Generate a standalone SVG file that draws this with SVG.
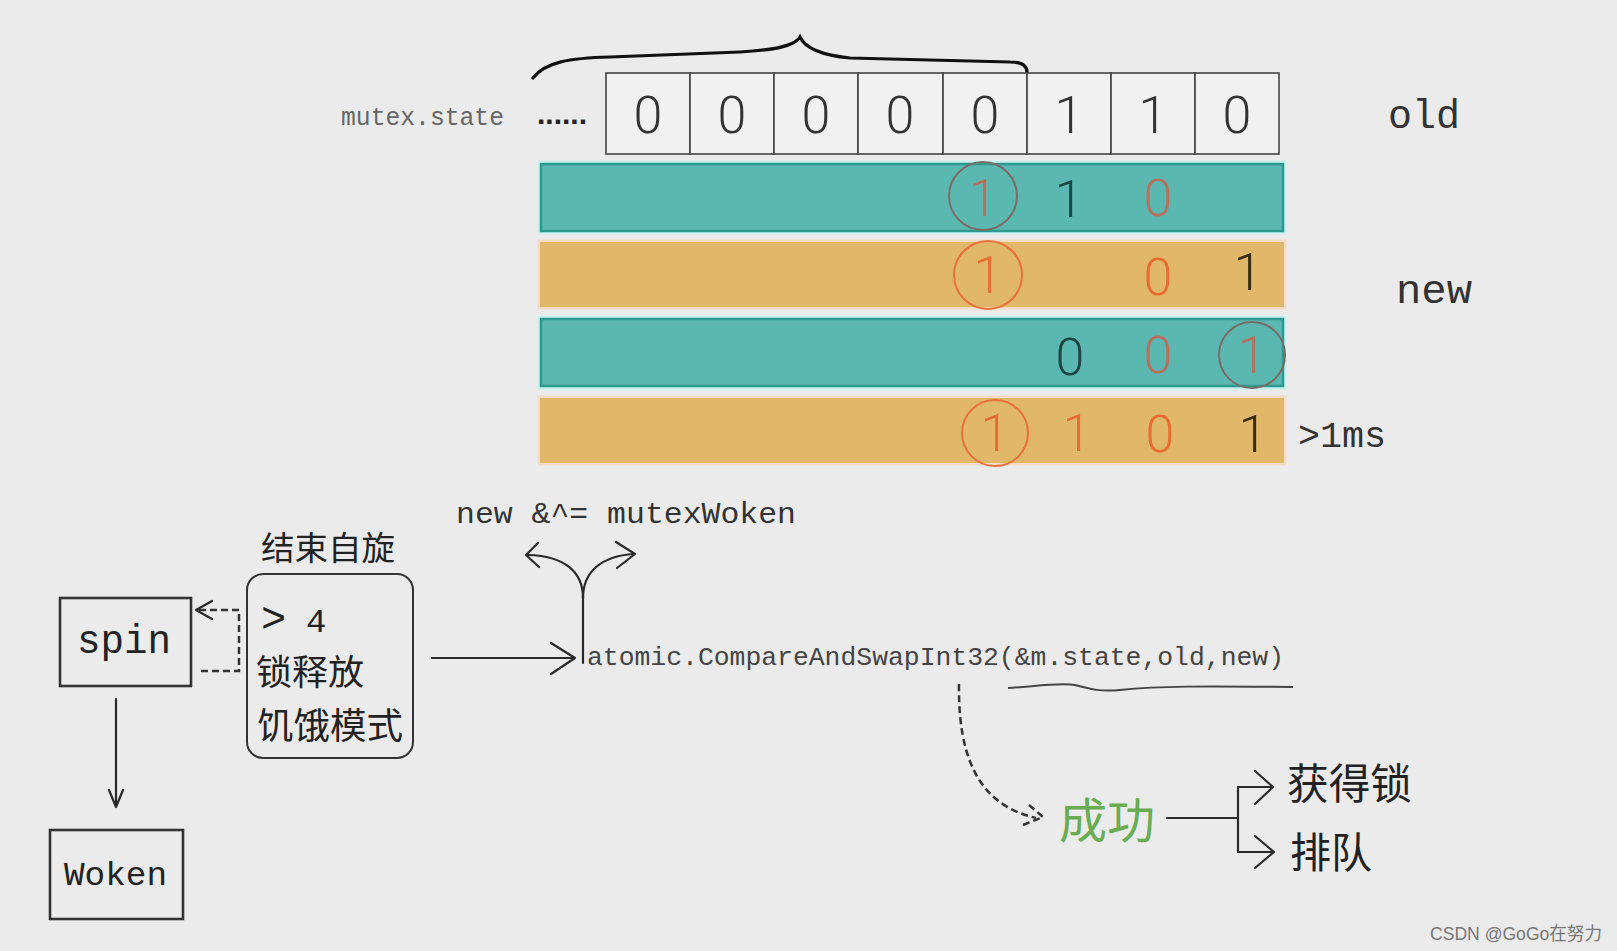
<svg xmlns="http://www.w3.org/2000/svg" width="1617" height="951" viewBox="0 0 1617 951">
<style>
.mono{font-family:"Liberation Mono","DejaVu Sans Mono",monospace}
.dig{font-family:Roboto,Lato,"Liberation Sans",Arial,sans-serif;font-weight:300;font-size:52px;text-anchor:middle}
.cjk{font-family:"Noto Sans CJK SC","Noto Sans",sans-serif}
.cell{fill:#f1f1f1;stroke:#444;stroke-width:1.6}
.teal{fill:#5ab8b0;stroke:#2c9a8e;stroke-width:2.5}
.tealhalo{fill:none;stroke:#c9f1ef;stroke-width:3}
.orange{fill:#e1b869}
.orhalo{fill:none;stroke:#f6dcc4;stroke-width:3}
.ln{fill:none;stroke:#2a2a2a;stroke-width:2.2;stroke-linecap:round;stroke-linejoin:round}
.dash{fill:none;stroke:#333;stroke-width:2.5;stroke-dasharray:7 4}
.box{fill:none;stroke:#333;stroke-width:2.6}
.cT{fill:none;stroke:#7a6c68;stroke-width:2}
.cO{fill:none;stroke:#e8703c;stroke-width:2}
.dT{fill:#1d4747}
.rT{fill:#b8705e}
.rO{fill:#e86c34}
.dO{fill:#3a2c12}
</style>
<rect x="0" y="0" width="1617" height="951" fill="#ebebeb"/>

<g id="brace">
<path d="M533,78 C545,62 570,58 610,57 L740,52 C775,50 795,46 800,37 C805,48 820,55 850,58 L1010,62 C1022,62 1027,66 1027,72" fill="none" stroke="#111" stroke-width="3.2" stroke-linecap="round"/>
</g>

<g id="mutex-state">
<text x="341" y="125" class="mono" font-size="26" fill="#666" textLength="163" lengthAdjust="spacingAndGlyphs">mutex.state</text>
<text x="537" y="124" font-family="Liberation Sans,Arial,sans-serif" font-weight="bold" font-size="30" fill="#222" textLength="50" lengthAdjust="spacing">......</text>
</g>

<g id="old-cells">
<rect class="cell" x="606" y="73" width="84" height="81"/>
<rect class="cell" x="690" y="73" width="84" height="81"/>
<rect class="cell" x="774" y="73" width="84" height="81"/>
<rect class="cell" x="858" y="73" width="85" height="81"/>
<rect class="cell" x="943" y="73" width="84" height="81"/>
<rect class="cell" x="1027" y="73" width="84" height="81"/>
<rect class="cell" x="1111" y="73" width="84" height="81"/>
<rect class="cell" x="1195" y="73" width="84" height="81"/>
<g fill="#333">
<text class="dig" x="648" y="133">0</text>
<text class="dig" x="732" y="133">0</text>
<text class="dig" x="816" y="133">0</text>
<text class="dig" x="900" y="133">0</text>
<text class="dig" x="985" y="133">0</text>
<text class="dig" x="1069" y="133">1</text>
<text class="dig" x="1153" y="133">1</text>
<text class="dig" x="1237" y="133">0</text>
</g>
</g>

<g id="row1">
<rect class="tealhalo" x="539" y="162" width="746" height="71"/>
<rect class="teal" x="541" y="164" width="742" height="67"/>
<circle class="cT" cx="983" cy="196" r="34"/>
<text class="dig rT" x="983" y="216">1</text>
<text class="dig dT" x="1069" y="217">1</text>
<text class="dig rT" x="1158" y="216">0</text>
</g>

<g id="row2">
<rect class="orhalo" x="539" y="241" width="746" height="67"/>
<rect class="orange" x="540" y="242" width="744" height="65"/>
<circle class="cO" cx="988" cy="275" r="34"/>
<text class="dig rO" x="988" y="293">1</text>
<text class="dig rO" x="1158" y="295">0</text>
<text class="dig dO" x="1248" y="290">1</text>
</g>

<g id="row3">
<rect class="tealhalo" x="539" y="317" width="746" height="71"/>
<rect class="teal" x="541" y="319" width="742" height="67"/>
<text class="dig dT" x="1070" y="375">0</text>
<text class="dig rT" x="1158" y="373">0</text>
<circle class="cT" cx="1252" cy="355" r="33"/>
<text class="dig rT" x="1252" y="373">1</text>
</g>

<g id="row4">
<rect class="orhalo" x="539" y="397" width="746" height="67"/>
<rect class="orange" x="540" y="398" width="744" height="65"/>
<circle class="cO" cx="995" cy="433" r="33"/>
<text class="dig rO" x="995" y="451">1</text>
<text class="dig rO" x="1077" y="451">1</text>
<text class="dig rO" x="1160" y="452">0</text>
<text class="dig dO" x="1253" y="452">1</text>
</g>

<g id="labels-right">
<text x="1388" y="128" class="mono" font-size="40" fill="#333" textLength="72" lengthAdjust="spacingAndGlyphs">old</text>
<text x="1396" y="303" class="mono" font-size="40" fill="#333" textLength="76" lengthAdjust="spacingAndGlyphs">new</text>
<text x="1298" y="447" class="mono" font-size="36" fill="#333" textLength="88" lengthAdjust="spacingAndGlyphs">&gt;1ms</text>
</g>

<g id="spin">
<rect class="box" x="60" y="598" width="131" height="88"/>
<text x="77" y="653" class="mono" font-size="40" fill="#222" textLength="94" lengthAdjust="spacingAndGlyphs">spin</text>
</g>

<g id="woken">
<rect class="box" x="50" y="830" width="133" height="89"/>
<text x="64" y="885" class="mono" font-size="34" fill="#222" textLength="103" lengthAdjust="spacingAndGlyphs">Woken</text>
</g>

<g id="end-spin">
<text x="261" y="560" class="cjk" font-size="33" fill="#222" textLength="134" lengthAdjust="spacingAndGlyphs">结束自旋</text>
<rect x="247" y="574" width="166" height="184" rx="16" fill="none" stroke="#333" stroke-width="2"/>
<text x="261" y="632" class="mono" font-size="42" fill="#222">&gt;</text>
<text x="306" y="632" class="mono" font-size="34" fill="#222">4</text>
<text x="256" y="685" class="cjk" font-size="35" fill="#222" textLength="108" lengthAdjust="spacingAndGlyphs">锁释放</text>
<text x="257" y="739" class="cjk" font-size="36" fill="#222" textLength="146" lengthAdjust="spacingAndGlyphs">饥饿模式</text>
</g>

<g id="woken-op">
<text x="456" y="523" class="mono" font-size="30" fill="#333" textLength="340" lengthAdjust="spacingAndGlyphs">new &amp;^= mutexWoken</text>
</g>

<g id="cas">
<text x="587" y="665" class="mono" font-size="26" fill="#444" textLength="697" lengthAdjust="spacingAndGlyphs">atomic.CompareAndSwapInt32(&amp;m.state,old,new)</text>
<path d="M1008,688 C1030,687 1060,682 1075,685 C1090,689 1100,692 1120,690 C1160,686 1200,686 1293,687" fill="none" stroke="#444" stroke-width="2"/>
</g>

<g id="success">
<text x="1059" y="838" class="cjk" font-size="48" fill="#6aac52" textLength="96" lengthAdjust="spacingAndGlyphs">成功</text>
</g>
<g id="get-lock">
<text x="1287" y="799" class="cjk" font-size="42" fill="#222" textLength="125" lengthAdjust="spacingAndGlyphs">获得锁</text>
</g>
<g id="queue">
<text x="1290" y="868" class="cjk" font-size="42" fill="#222" textLength="82" lengthAdjust="spacingAndGlyphs">排队</text>
</g>

<g id="connectors">
<path class="dash" d="M201,671 L239,671 L239,610 L198,610" stroke-width="2"/>
<path class="ln" d="M212,601 L196,610 L212,619" stroke-width="2"/>
<path class="ln" d="M116,699 L116,806" stroke-width="1.8"/>
<path class="ln" d="M109,790 L116,807 L123,790" stroke-width="1.8"/>
<path class="ln" d="M432,658 L574,658" stroke-width="2.5"/>
<path class="ln" d="M551,643 L575,658 L551,674" stroke-width="2.5"/>
<path class="ln" d="M583,663 L583,596"/>
<path class="ln" d="M583,598 C583,572 565,556 528,555"/>
<path class="ln" d="M583,598 C583,572 601,556 634,554"/>
<path class="ln" d="M538,543 L526,555 L539,567"/>
<path class="ln" d="M616,542 L635,554 L617,568"/>
<path class="dash" d="M959,684 C958,760 980,805 1036,818"/>
<path class="dash" d="M1029,805 L1043,817 L1023,825" stroke-dasharray="5 3"/>
<path class="ln" d="M1167,818 L1238,818 M1238,787 L1238,852 M1238,787 L1272,787 M1238,852 L1272,852"/>
<path class="ln" d="M1255,771 L1273,787 L1255,804"/>
<path class="ln" d="M1255,836 L1274,852 L1255,868"/>
</g>

<g id="credit">
<text x="1430" y="940" font-family="Liberation Sans,Arial,'Noto Sans CJK SC',sans-serif" font-size="18" fill="#777" textLength="172" lengthAdjust="spacingAndGlyphs">CSDN @GoGo在努力</text>
</g>
</svg>
